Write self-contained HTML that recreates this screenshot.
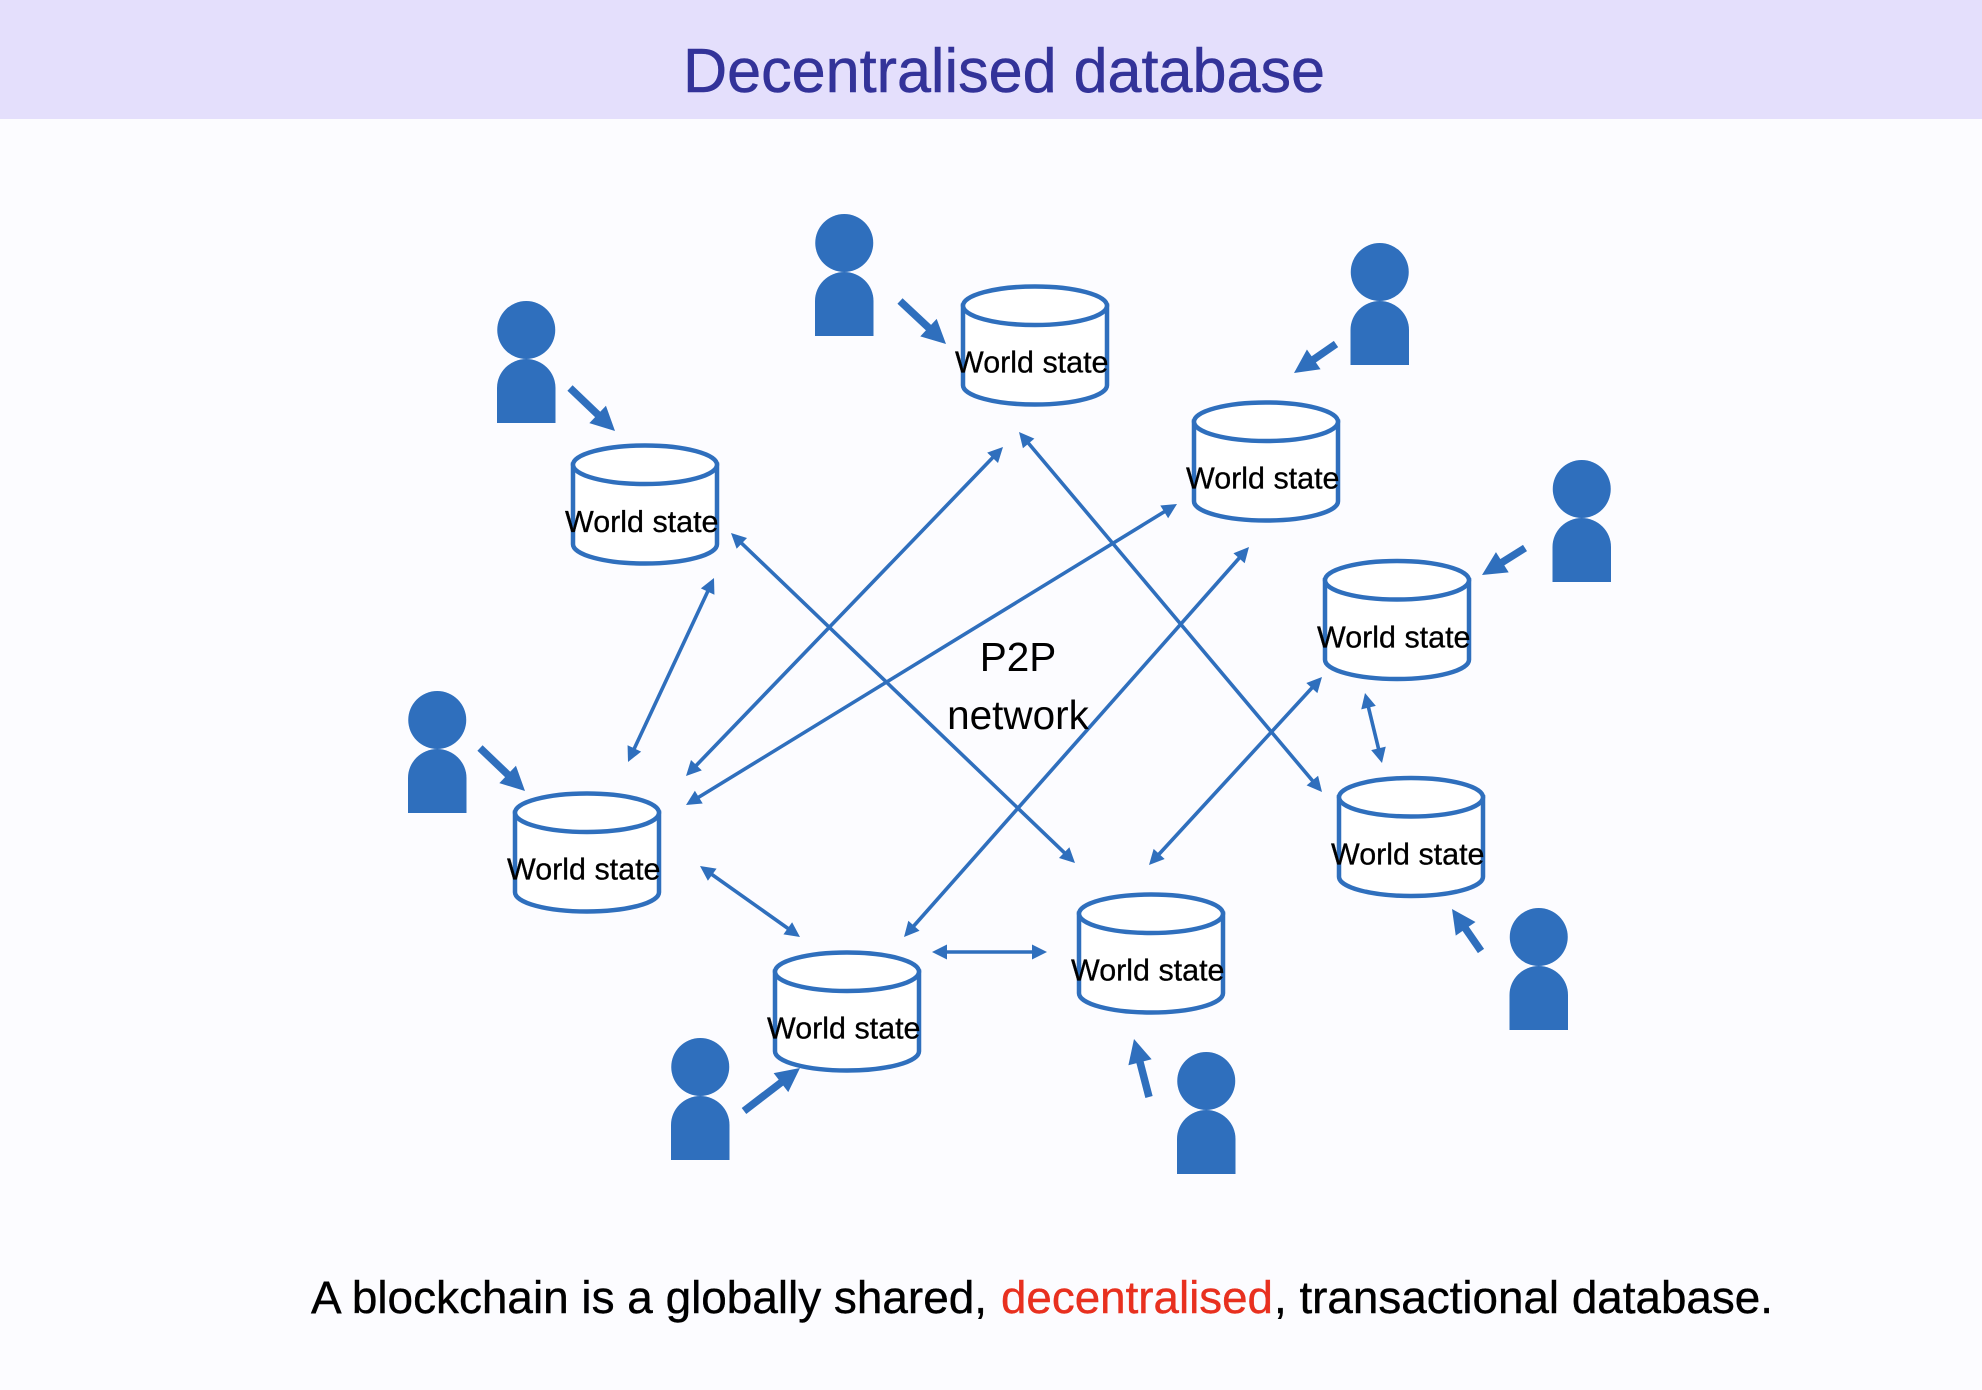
<!DOCTYPE html>
<html lang="en">
<head>
<meta charset="utf-8">
<title>Decentralised database</title>
<style>
html,body{margin:0;padding:0;background:#fcfcff}
svg{display:block}
text{font-family:"Liberation Sans",Arial,sans-serif}
</style>
</head>
<body>
<svg xmlns="http://www.w3.org/2000/svg" width="1982" height="1390" viewBox="0 0 1982 1390">
<defs>
<path id="t" d="M0,0L-15,-7.5L-15,7.5z" fill="#2f6fbd"/>
<path id="b" d="M0,0L-24,-12L-24,12z" fill="#2f6fbd"/>
<g id="cyl"><path d="M0,19.25V98.75A72,19.25 0 0 0 144,98.75V19.25z" fill="#fff" stroke="#2f6fbd" stroke-width="4.5"/><ellipse cx="72" cy="19.25" rx="72" ry="19.25" fill="#fff" stroke="#2f6fbd" stroke-width="4.5"/></g>
<g id="p" fill="#2f6fbd"><circle cx="29.25" cy="29" r="29"/><path d="M0,122V87A29.25,29 0 0 1 58.5,87V122z"/></g>
</defs>
<rect width="1982" height="1390" fill="#fcfcff"/>
<rect width="1982" height="119" fill="#e4dffc"/>
<text x="683" y="92" font-size="62" fill="#333399" stroke="#333399" stroke-width="0.5" textLength="642" lengthAdjust="spacingAndGlyphs">Decentralised database</text>

<use href="#cyl" x="573" y="445.5"/>
<use href="#cyl" x="963" y="286.5"/>
<use href="#cyl" x="1194" y="402.5"/>
<use href="#cyl" x="1325" y="561"/>
<use href="#cyl" x="1339" y="778"/>
<use href="#cyl" x="1079" y="894.5"/>
<use href="#cyl" x="775" y="952.5"/>
<use href="#cyl" x="515" y="793.5"/>

<g font-size="30.5" fill="#000" stroke="#000" stroke-width="0.3">
<text x="565" y="532" textLength="153.5" lengthAdjust="spacingAndGlyphs">World state</text>
<text x="955" y="372.5" textLength="153.5" lengthAdjust="spacingAndGlyphs">World state</text>
<text x="1186" y="488.5" textLength="153.5" lengthAdjust="spacingAndGlyphs">World state</text>
<text x="1317" y="647.5" textLength="153.5" lengthAdjust="spacingAndGlyphs">World state</text>
<text x="1331" y="864.5" textLength="153.5" lengthAdjust="spacingAndGlyphs">World state</text>
<text x="1071" y="980.5" textLength="153.5" lengthAdjust="spacingAndGlyphs">World state</text>
<text x="767" y="1038.5" textLength="153.5" lengthAdjust="spacingAndGlyphs">World state</text>
<text x="507" y="879.5" textLength="153.5" lengthAdjust="spacingAndGlyphs">World state</text>
</g>

<use href="#p" x="497" y="301"/>
<use href="#p" x="815" y="214"/>
<use href="#p" x="1350.5" y="243"/>
<use href="#p" x="1552.5" y="460"/>
<use href="#p" x="1509.5" y="908"/>
<use href="#p" x="1177" y="1052"/>
<use href="#p" x="671" y="1038"/>
<use href="#p" x="408" y="691"/>

<g stroke="#2f6fbd" stroke-width="3.6" fill="none">
<line x1="711.5" y1="583.4" x2="630.5" y2="756.6"/>
<line x1="998.8" y1="451.3" x2="690.2" y2="771.7"/>
<line x1="1022.9" y1="436.6" x2="1318.1" y2="787.4"/>
<line x1="1171.9" y1="507.1" x2="691.1" y2="801.9"/>
<line x1="1245" y1="551.5" x2="908" y2="932.5"/>
<line x1="735.3" y1="537.2" x2="1070.7" y2="858.8"/>
<line x1="1317.9" y1="681.4" x2="1153.1" y2="860.6"/>
<line x1="1366.4" y1="698.8" x2="1380.6" y2="757.2"/>
<line x1="704.9" y1="869.5" x2="795.1" y2="933.5"/>
<line x1="938" y1="952" x2="1040" y2="952"/>
</g>
<use href="#t" transform="translate(714,578) rotate(-64.9)"/><use href="#t" transform="translate(628,762) rotate(115.1)"/>
<use href="#t" transform="translate(1003,447) rotate(-46.1)"/><use href="#t" transform="translate(686,776) rotate(133.9)"/>
<use href="#t" transform="translate(1019,432) rotate(-130.1)"/><use href="#t" transform="translate(1322,792) rotate(49.9)"/>
<use href="#t" transform="translate(1177,504) rotate(-31.5)"/><use href="#t" transform="translate(686,805) rotate(148.5)"/>
<use href="#t" transform="translate(1249,547) rotate(-48.5)"/><use href="#t" transform="translate(904,937) rotate(131.5)"/>
<use href="#t" transform="translate(731,533) rotate(-136.2)"/><use href="#t" transform="translate(1075,863) rotate(43.8)"/>
<use href="#t" transform="translate(1322,677) rotate(-47.4)"/><use href="#t" transform="translate(1149,865) rotate(132.6)"/>
<use href="#t" transform="translate(1365,693) rotate(-103.6)"/><use href="#t" transform="translate(1382,763) rotate(76.4)"/>
<use href="#t" transform="translate(700,866) rotate(-144.6)"/><use href="#t" transform="translate(800,937) rotate(35.4)"/>
<use href="#t" transform="translate(932,952) rotate(180)"/><use href="#t" transform="translate(1047,952)"/>

<g stroke="#2f6fbd" stroke-width="7.5" fill="none">
<line x1="570" y1="388" x2="606.3" y2="422.7"/>
<line x1="900" y1="301" x2="937.2" y2="335.8"/>
<line x1="1336" y1="344" x2="1303.9" y2="366.2"/>
<line x1="1525" y1="548" x2="1492.2" y2="568.6"/>
<line x1="1481" y1="951" x2="1458.8" y2="918.9"/>
<line x1="1149" y1="1097" x2="1137" y2="1050.6"/>
<line x1="744" y1="1111" x2="790.5" y2="1075.3"/>
<line x1="480" y1="748" x2="516.3" y2="782.7"/>
</g>
<use href="#b" transform="translate(615,431) rotate(43.7)"/>
<use href="#b" transform="translate(946,344) rotate(43.1)"/>
<use href="#b" transform="translate(1294,373) rotate(145.4)"/>
<use href="#b" transform="translate(1482,575) rotate(147.9)"/>
<use href="#b" transform="translate(1452,909) rotate(-124.6)"/>
<use href="#b" transform="translate(1134,1039) rotate(-104.5)"/>
<use href="#b" transform="translate(800,1068) rotate(-37.5)"/>
<use href="#b" transform="translate(525,791) rotate(43.7)"/>

<g font-size="40.5" fill="#000" text-anchor="middle">
<text x="1018" y="671">P2P</text>
<text x="1018" y="729">network</text>
</g>

<g font-size="45.5" stroke-width="0.4">
<text x="311" y="1313" fill="#000" stroke="#000" textLength="676" lengthAdjust="spacingAndGlyphs">A blockchain is a globally shared,</text>
<text x="1001" y="1313" fill="#e8301f" stroke="#e8301f" textLength="272" lengthAdjust="spacingAndGlyphs">decentralised</text>
<text x="1274" y="1313" fill="#000" stroke="#000" textLength="499" lengthAdjust="spacingAndGlyphs">, transactional database.</text>
</g>
</svg>
</body>
</html>
